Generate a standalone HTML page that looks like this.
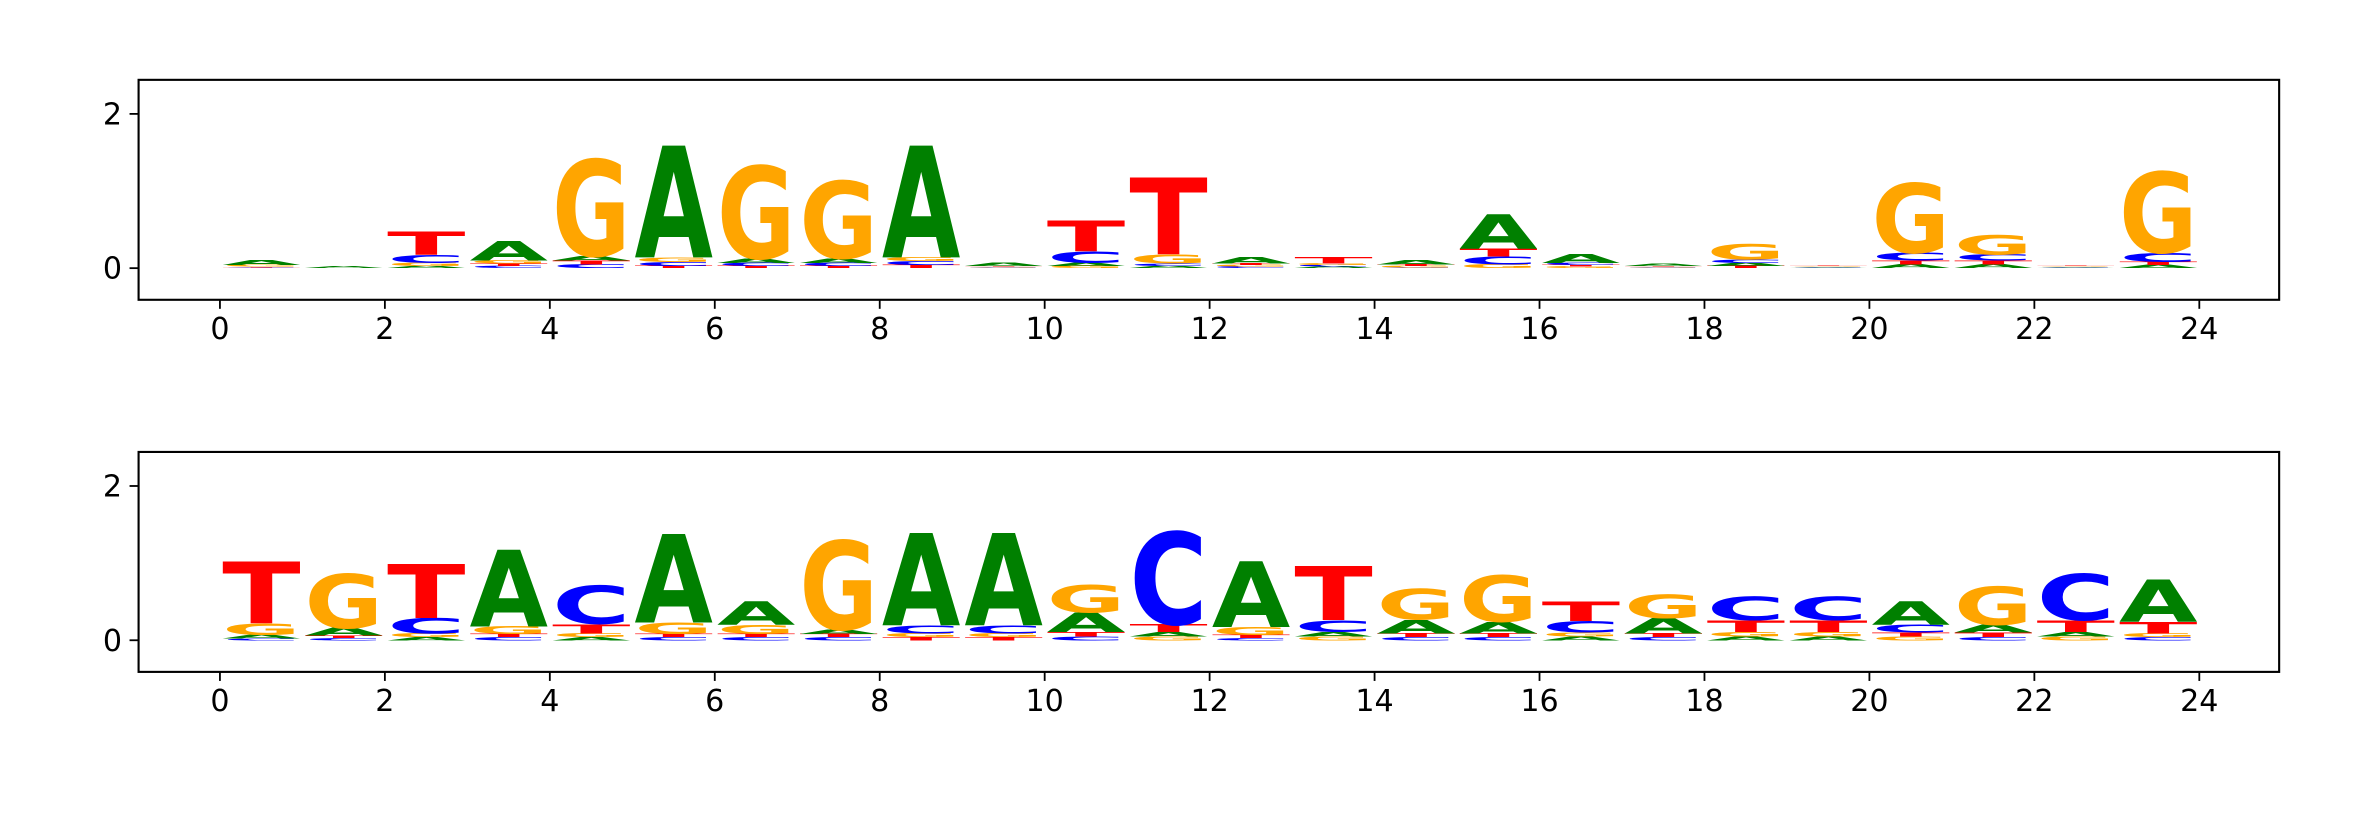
<!DOCTYPE html>
<html><head><meta charset="utf-8">
<style>
html,body{margin:0;padding:0;background:#fff;overflow:hidden;}
svg{display:block;}
svg text{font-family:"DejaVu Sans","Liberation Sans",sans-serif;}
</style></head>
<body>
<svg id="chart" width="2362" height="826" viewBox="0 0 1568 548.3" preserveAspectRatio="none" xmlns="http://www.w3.org/2000/svg">
<rect width="1568" height="548.3" fill="#fff"/>
</svg>
<script>
// Position categories
const positions = [0,1,2,3,4,5,6,7,8,9,10,11,12,13,14,15,16,17,18,19,20,21,22,23];
const xTicks = [0,2,4,6,8,10,12,14,16,18,20,22,24];
const yTicks = [0,2];
// Top panel letter heights (bits)
const topA = [0.07,0.02,0.03,0.25,0.06,1.45,0.06,0.06,1.45,0.04,0.04,0.03,0.08,0.02,0.06,0.45,0.12,0.03,0.04,0.01,0.05,0.05,0.01,0.04];
const topC = [0.01,0.0,0.10,0.03,0.05,0.05,0.04,0.04,0.05,0.01,0.15,0.03,0.02,0.02,0.01,0.10,0.03,0.01,0.04,0.01,0.10,0.08,0.01,0.12];
const topG = [0.02,0.0,0.04,0.04,1.25,0.06,1.2,1.0,0.05,0.01,0.03,0.12,0.02,0.02,0.02,0.05,0.02,0.01,0.20,0.01,0.90,0.25,0.01,1.05];
const topT = [0.01,0.0,0.30,0.03,0.05,0.03,0.03,0.03,0.04,0.01,0.40,1.0,0.02,0.08,0.02,0.10,0.02,0.01,0.03,0.01,0.05,0.05,0.01,0.04];
// Bottom panel letter heights (bits)
const botA = [0.05,0.1,0.04,1.0,0.04,1.15,0.30,0.06,1.2,1.2,0.25,0.06,0.85,0.06,0.18,0.15,0.05,0.20,0.05,0.05,0.30,0.10,0.06,0.55];
const botC = [0.02,0.03,0.20,0.04,0.50,0.04,0.04,0.04,0.10,0.10,0.05,1.2,0.03,0.15,0.04,0.04,0.15,0.04,0.30,0.30,0.10,0.04,0.60,0.04];
const botG = [0.15,0.7,0.05,0.10,0.05,0.15,0.12,1.15,0.05,0.05,0.35,0.05,0.10,0.05,0.40,0.60,0.05,0.30,0.06,0.06,0.05,0.50,0.05,0.05];
const botT = [0.80,0.03,0.70,0.04,0.12,0.04,0.04,0.04,0.04,0.04,0.06,0.10,0.04,0.70,0.05,0.05,0.25,0.05,0.15,0.15,0.05,0.06,0.15,0.15];

const NS = "http://www.w3.org/2000/svg";
const svg = document.getElementById('chart');
const colors = {A:'#008000', C:'#0000ff', G:'#ffa500', T:'#ff0000'};
function el(tag, attrs, parent){
  const e = document.createElementNS(NS, tag);
  for (const k in attrs) e.setAttribute(k, attrs[k]);
  parent.appendChild(e);
  return e;
}
const xScale = v => 146 + v*54.75;

function panel(name, top, bottom, zeroY, A, C, G, T){
  const unit = 51.2;
  const yScale = v => zeroY - v*unit;
  const g = el('g', {}, svg);
  
  
  const lg = el('g', {}, g);
  
  
  positions.forEach((p, i) => {
    const items = [['A',A[i]],['C',C[i]],['G',G[i]],['T',T[i]]].filter(d=>d[1]>0).sort((a,b)=>a[1]-b[1]);
    let base = 0;
    const x0 = xScale(p) + 1.5, w = 54.75*0.95;
    items.forEach(([L,h]) => {
      const yb = yScale(base), hp = h*unit;
      const t = el('text', {
        x: 0, y: 0,
        'font-size': 100, 'font-weight': 'bold', fill: colors[L],
        textLength: 70, lengthAdjust: 'spacingAndGlyphs',
        transform: `translate(${x0},${yb}) scale(${w/70},${hp/73})`
      }, lg);
      t.textContent = L;
      
      
      base += h;
    });
  });
  const fr = el('rect', {x:92, y:top, width:1421, height:bottom-top, fill:'none', stroke:'#000', 'stroke-width':1.4}, g);
  
  
  const xa = el('g', {}, g);
  
  
  xTicks.forEach(v => {
    el('line', {x1:xScale(v), x2:xScale(v), y1:bottom, y2:bottom+6, stroke:'#000', 'stroke-width':1.2}, xa);
    const t = el('text', {x:xScale(v), y:bottom+26, 'font-size':20, 'text-anchor':'middle', fill:'#000'}, xa);
    t.textContent = v;
    
    
  });
  const ya = el('g', {}, g);
  
  
  yTicks.forEach(v => {
    el('line', {x1:86, x2:92, y1:yScale(v), y2:yScale(v), stroke:'#000', 'stroke-width':1.2}, ya);
    const t = el('text', {x:81, y:yScale(v)+7, 'font-size':20, 'text-anchor':'end', fill:'#000'}, ya);
    t.textContent = v;
    
    
  });
}
panel('top-logo-panel', 53, 199, 178, topA, topC, topG, topT);
panel('bottom-logo-panel', 300, 446, 425, botA, botC, botG, botT);
</script>
</body></html>
